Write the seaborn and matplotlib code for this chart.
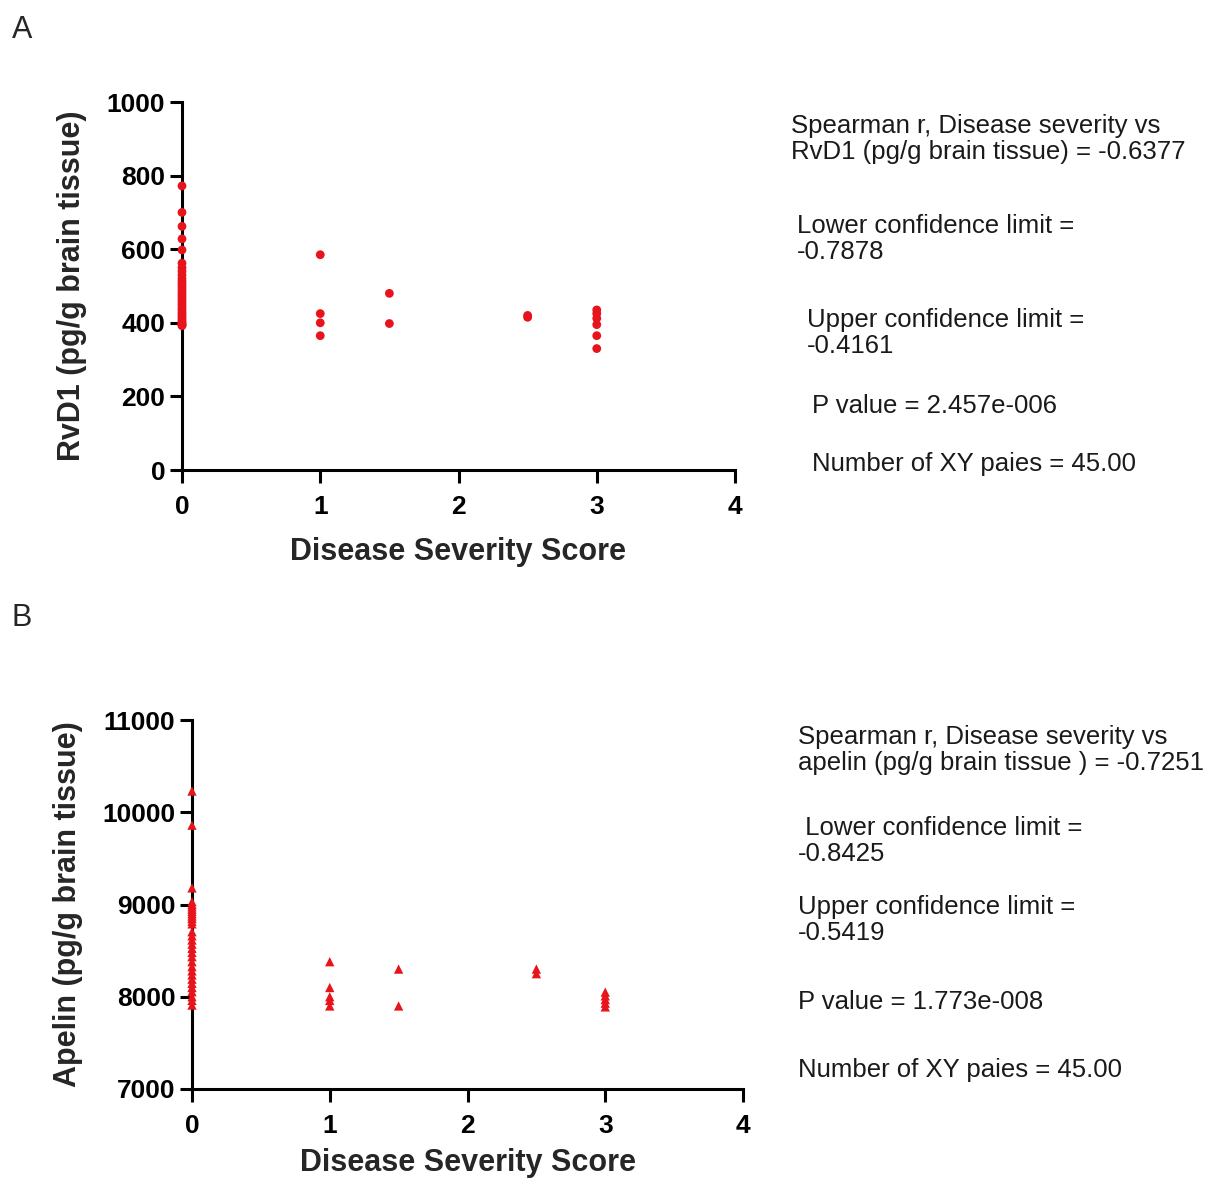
import numpy as np
import pandas as pd
import matplotlib
matplotlib.use("Agg")
import matplotlib.pyplot as plt
import seaborn as sns

# ---------------- data ----------------
rvd1_score = ([0] * 31) + [1] * 4 + [1.5] * 2 + [2.5] * 2 + [3] * 6
rvd1_values = [772, 700, 662, 628, 598, 562, 550, 540, 530, 520, 512, 505, 498, 490,
               483, 476, 469, 462, 455, 448, 441, 435, 428, 422, 416, 410, 404, 400,
               396, 394, 392,
               585, 425, 400, 365,
               480, 398,
               420, 415,
               435, 425, 412, 395, 365, 330]

apelin_score = ([0] * 31) + [1] * 5 + [1.5] * 2 + [2.5] * 2 + [3] * 5
apelin_values = [10230, 9860, 9180, 9030, 9000, 8975, 8950, 8925, 8900, 8875, 8850,
                 8820, 8790, 8705, 8660, 8615, 8570, 8525, 8480, 8434, 8380, 8326,
                 8280, 8236, 8190, 8145, 8100, 8055, 8000, 7960, 7910,
                 8380, 8100, 8000, 7960, 7900,
                 8300, 7900,
                 8300, 8250,
                 8050, 8010, 7970, 7930, 7890]

x_ticks = [0, 1, 2, 3, 4]
rvd1_ticks = [0, 200, 400, 600, 800, 1000]
apelin_ticks = [7000, 8000, 9000, 10000, 11000]

stats_a = ["Spearman r, Disease severity vs\nRvD1 (pg/g brain tissue) = -0.6377",
           "Lower confidence limit =\n-0.7878",
           "Upper confidence limit =\n-0.4161",
           "P value = 2.457e-006",
           "Number of XY paies = 45.00"]
stats_b = ["Spearman r, Disease severity vs\napelin (pg/g brain tissue ) = -0.7251",
           " Lower confidence limit =\n-0.8425",
           "Upper confidence limit =\n-0.5419",
           "P value = 1.773e-008",
           "Number of XY paies = 45.00"]

df_a = pd.DataFrame({"score": rvd1_score, "value": rvd1_values})
df_b = pd.DataFrame({"score": apelin_score, "value": apelin_values})

# ---------------- style ----------------
sns.set_style("ticks")
plt.rcParams['font.family'] = ['Liberation Sans', 'DejaVu Sans']

W, H = 1213, 1180
fig = plt.figure(figsize=(W / 100, H / 100), dpi=100)

RED = "#e8141c"


def px_axes(left, top, right, bottom):
    return fig.add_axes([left / W, 1 - bottom / H, (right - left) / W, (bottom - top) / H])


def style_ax(ax, yticks, ylabel, xlabelpad):
    ax.set_xlim(0, 4)
    ax.set_ylim(yticks[0], yticks[-1])
    ax.set_xticks(x_ticks)
    ax.set_yticks(yticks)
    ax.set_xticklabels([str(t) for t in x_ticks], fontsize=19, fontweight="bold")
    ax.set_yticklabels([str(t) for t in yticks], fontsize=19, fontweight="bold")
    ax.set_xlabel("Disease Severity Score", fontsize=22, fontweight="bold",
                  labelpad=xlabelpad)
    ax.set_ylabel(ylabel, fontsize=22, fontweight="bold", labelpad=14)
    sns.despine(ax=ax)
    for s in ("left", "bottom"):
        ax.spines[s].set_linewidth(2.2)
        ax.spines[s].set_color("black")
    ax.tick_params(axis="both", width=2.2, length=9, color="black", labelcolor="black")
    ax.tick_params(axis="x", pad=9)
    ax.tick_params(axis="y", pad=3)


ax_a = px_axes(182, 102, 735, 470)
sns.scatterplot(data=df_a, x="score", y="value", ax=ax_a, color=RED, marker="o",
                s=40, edgecolor="none", clip_on=False, zorder=5)
style_ax(ax_a, rvd1_ticks, "RvD1 (pg/g brain tissue)", 13)

ax_b = px_axes(192, 720, 743, 1089)
sns.scatterplot(data=df_b, x="score", y="value", ax=ax_b, color=RED, marker="^",
                s=45, edgecolor="none", clip_on=False, zorder=5)
style_ax(ax_b, apelin_ticks, "Apelin (pg/g brain tissue)", 7)

# panel letters
fig.text(12 / W, 1 - 30 / H, "A", fontsize=22, va="center", ha="left")
fig.text(12 / W, 1 - 618 / H, "B", fontsize=22, va="center", ha="left")

# stats texts (x px, top y px)
pos_a = [(791, 114), (797, 214), (807, 308), (812, 394), (812, 452)]
pos_b = [(798, 725), (798, 816), (798, 895), (798, 990), (798, 1058)]
for txt, (x, y) in zip(stats_a, pos_a):
    fig.text(x / W, 1 - y / H, txt, fontsize=18.5, va="top", ha="left",
             color="#1a1a1a", linespacing=1.12)
for txt, (x, y) in zip(stats_b, pos_b):
    fig.text(x / W, 1 - y / H, txt, fontsize=18.5, va="top", ha="left",
             color="#1a1a1a", linespacing=1.12)

fig.savefig("out.png", dpi=100)
